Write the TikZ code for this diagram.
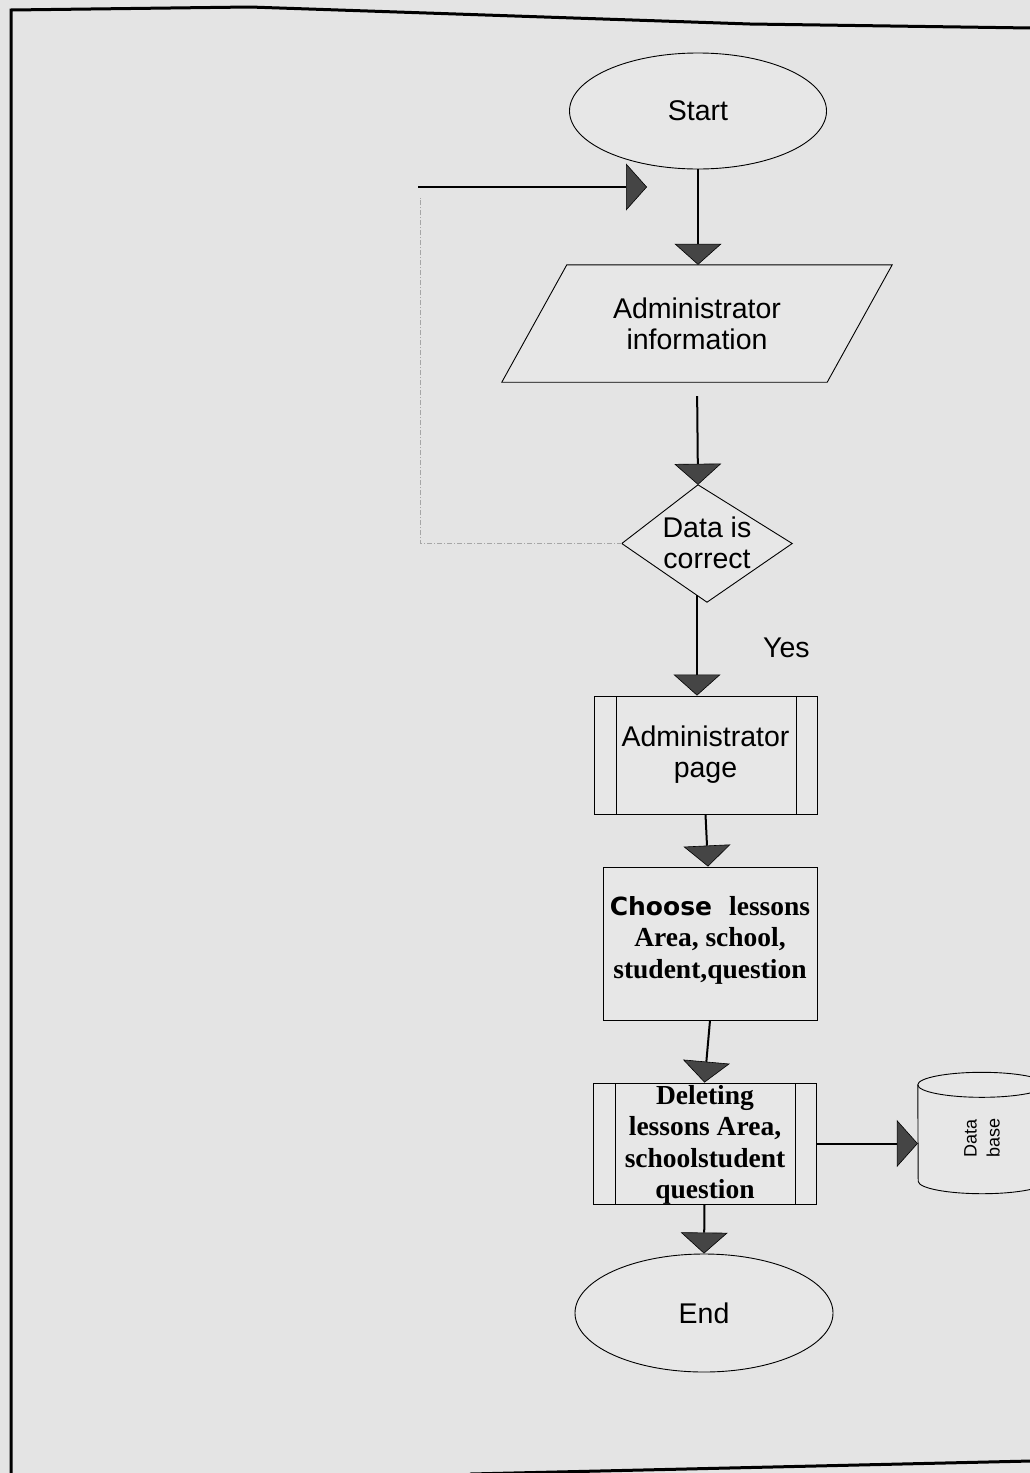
\documentclass[tikz,border=0pt]{standalone}
\usepackage{fontspec}
\setmainfont{Liberation Sans}
\newfontfamily\serifbf{Liberation Serif}
\newfontfamily\blackfont{DejaVu Sans}
\usetikzlibrary{arrows.meta,shapes.geometric}
\definecolor{paper}{gray}{0.895}
\definecolor{boxfill}{gray}{0.905}
\definecolor{tipgray}{gray}{0.27}
\tikzset{
  conn/.style={line width=2pt, draw=black,
    -{Triangle[width=47pt,length=21pt,fill=tipgray,line width=0.6pt]}},
  fbline/.style={line width=0.6pt, draw=gray!70, dash pattern=on 5pt off 2pt on 1pt off 2pt},
  shapebox/.style={draw=black, line width=0.9pt, fill=boxfill},
  textsans/.style={font=\fontsize{28.5}{31}\selectfont, align=center, inner sep=0pt},
  textserif/.style={font=\serifbf\bfseries\fontsize{27.5}{31.5}\selectfont, align=center, inner sep=0pt},
  predef/.style={shapebox, rectangle, inner sep=0pt,
    path picture={\draw[line width=0.9pt]
      ([xshift=22pt]path picture bounding box.north west) -- ([xshift=22pt]path picture bounding box.south west)
      ([xshift=-21pt]path picture bounding box.north east) -- ([xshift=-21pt]path picture bounding box.south east);}},
  holder/.style={inner sep=0pt, rectangle},
}
\begin{document}
\begin{tikzpicture}[x=1pt,y=-1pt]
\useasboundingbox (0,0) rectangle (1030,1473);
\fill[paper] (0,0) rectangle (1030,1473);
% page frame
\draw[line width=3pt] (11,1474) -- (11,10) -- (250,7) -- (750,24) -- (1031,28);
\draw[line width=3pt] (470,1474) -- (1031,1461);

% nodes
\node[shapebox, ellipse, minimum width=257pt, minimum height=116pt, inner sep=0pt, textsans] (start) at (698,111) {Start};

\node[holder, minimum width=325pt, minimum height=117pt] (info) at (697,323.5) {};
\draw[shapebox] ([xshift=32.5pt]info.north west) -- ([xshift=32.5pt]info.north east)
  -- ([xshift=-32.5pt]info.south east) -- ([xshift=-32.5pt]info.south west) -- cycle;
\node[textsans] (infotext) at (info.center) {Administrator\\information};

\node[holder, minimum width=170pt, minimum height=117pt] (dec) at (707,543.5) {};
\draw[shapebox] ([xshift=-9pt]dec.north) -- (dec.east) -- (dec.south) -- (dec.west) -- cycle;
\node[textsans] (dectext) at (707,543) {Data is\\correct};

\node[textsans, anchor=base west] (yes) at (763,657) {Yes};

\node[predef, minimum width=223pt, minimum height=118pt] (admin) at (705.5,755) {};
\node[textsans] (admintext) at (admin.center) {Administrator\\page};

\node[shapebox, rectangle, inner sep=0pt, minimum width=214pt, minimum height=153pt] (choose) at (710,943.5) {};
\node[textserif] (choosetext) at (710,940) {{\blackfont\bfseries\fontsize{25}{31.5}\selectfont Choose}\hspace{17pt}lessons\\Area, school,\\student,question};

\node[predef, minimum width=223pt, minimum height=121pt] (del) at (704.5,1143.5) {};
\node[textserif] (deltext) at (705,1145) {Deleting\\lessons Area,\\schoolstudent\\question};

\node[holder, minimum width=128pt, minimum height=96pt] (db) at (982,1133) {};
\draw[shapebox] (db.north west) arc[start angle=180, end angle=0, x radius=64pt, y radius=12.5pt]
  -- (db.south east) arc[start angle=0, end angle=-180, x radius=64pt, y radius=12.5pt] -- cycle;
\draw[line width=0.9pt] (db.north west) arc[start angle=180, end angle=360, x radius=64pt, y radius=12.5pt];
\node[font=\fontsize{18}{23}\selectfont, align=center, rotate=90, inner sep=0pt] (dbtext) at (982,1138) {Data\\base};

\node[shapebox, ellipse, minimum width=258pt, minimum height=118pt, inner sep=0pt, textsans] (end) at (704,1313) {End};

% feedback loop coordinates
\coordinate (fbcorner) at (420,543.5);
\coordinate (fbend) at (420,198);
\coordinate (fbstart) at (418,187);
\coordinate (fbtip) at (647,187);

% connectors
\draw[conn] (start.south) -- (start.south |- info.north);
\draw[conn, shorten <=14pt] (info.south) -- ([xshift=-9pt]dec.north);
\draw[conn] ([xshift=-10pt,yshift=7pt]dec.south) -- ([xshift=-8.5pt]admin.north);
\draw[fbline] (dec.west) -- (fbcorner) -- (fbend);
\draw[conn] (fbstart) -- (fbtip);
\draw[conn] (admin.south) -- ([xshift=-2pt]choose.north);
\draw[conn] (choose.south) -- (del.north);
\draw[conn] (del.east) -- (del.east -| db.west);
\draw[conn] (del.south) -- (end.north);
\end{tikzpicture}
\end{document}
